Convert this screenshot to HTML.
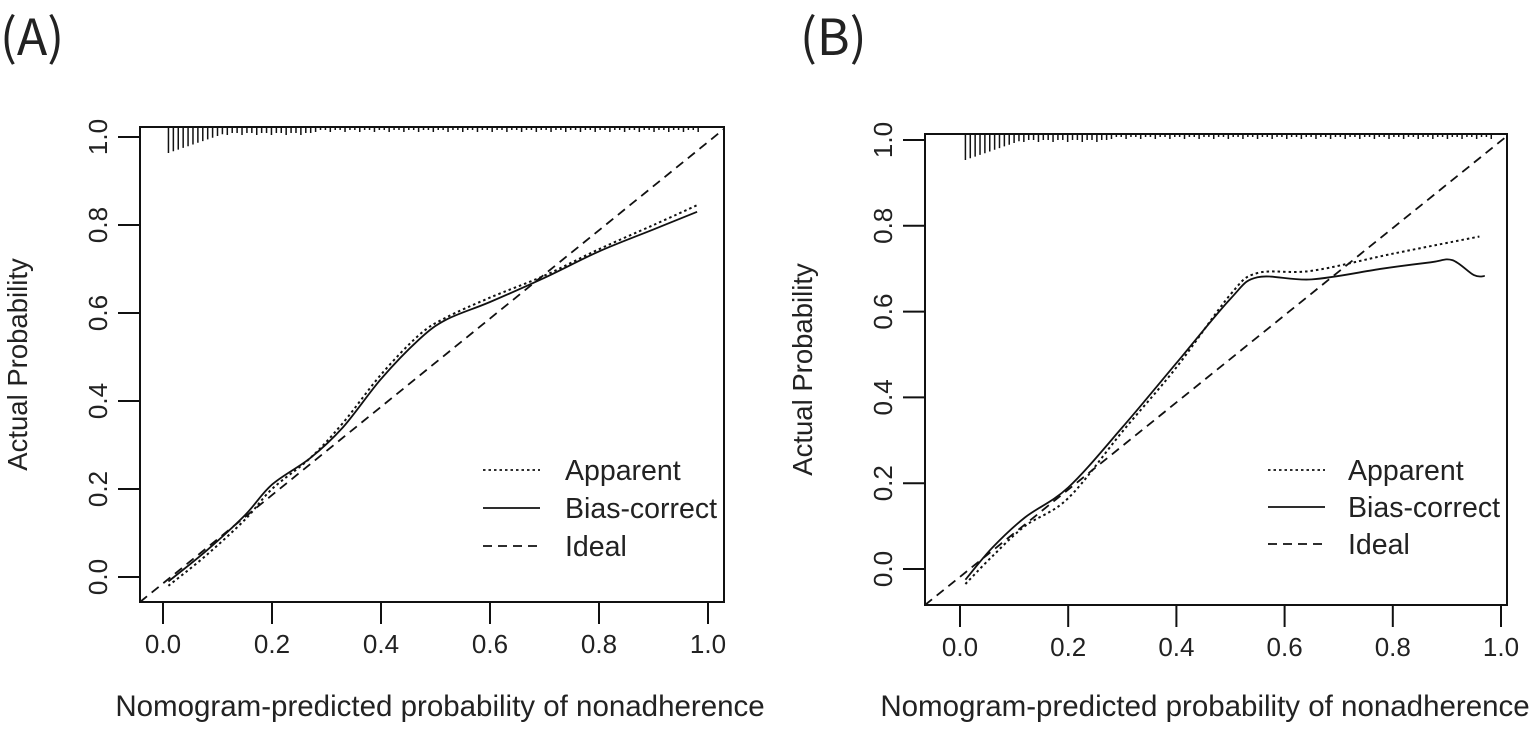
<!DOCTYPE html><html><head><meta charset="utf-8"><style>
body{margin:0;background:#fff;width:1535px;height:729px;overflow:hidden}
svg{display:block}
text{font-family:"Liberation Sans",Arial,sans-serif;fill:#222}
</style></head><body>
<svg id="s" width="1535" height="729" xmlns="http://www.w3.org/2000/svg">
<text x="0" y="55" style="font-family:'Noto Sans CJK SC','WenQuanYi Zen Hei',sans-serif;font-size:50px">(A)</text>
<text x="800" y="55" style="font-family:'Noto Sans CJK SC','WenQuanYi Zen Hei',sans-serif;font-size:50px">(B)</text>
</svg>
<script>
const S=document.getElementById('s'),NS='http://www.w3.org/2000/svg';
function el(t,a,txt){const e=document.createElementNS(NS,t);for(const k in a)e.setAttribute(k,a[k]);if(txt)e.textContent=txt;S.appendChild(e);return e;}
function smooth(p){let s='M'+p[0][0].toFixed(1)+','+p[0][1].toFixed(1);for(let i=0;i<p.length-1;i++){const a=p[i-1]||p[i],b=p[i],c=p[i+1],d=p[i+2]||c;
 s+=`C${(b[0]+(c[0]-a[0])/6).toFixed(1)},${(b[1]+(c[1]-a[1])/6).toFixed(1)} ${(c[0]-(d[0]-b[0])/6).toFixed(1)},${(c[1]-(d[1]-b[1])/6).toFixed(1)} ${c[0].toFixed(1)},${c[1].toFixed(1)}`;}return s;}
function panel(P){
 const X=v=>P.x0+v*(P.x1-P.x0),Y=v=>P.y0+v*(P.y1-P.y0);
 el('rect',{x:P.bl,y:P.bt,width:P.br-P.bl,height:P.bb-P.bt,fill:'none',stroke:'#111','stroke-width':2});
 for(let i=0;i<=5;i++){const v=i/5;
  el('line',{x1:X(v),x2:X(v),y1:P.bb,y2:P.bb+22,stroke:'#111','stroke-width':2});
  el('text',{x:X(v),y:P.bb+51,'text-anchor':'middle','font-size':26},v.toFixed(1));
  el('line',{y1:Y(v),y2:Y(v),x1:P.bl,x2:P.bl-22,stroke:'#111','stroke-width':2});
  el('text',{x:0,y:0,'text-anchor':'middle','font-size':26,transform:`translate(${P.bl-33},${Y(v)}) rotate(-90)`},v.toFixed(1));
 }
 el('text',{x:0,y:0,'text-anchor':'middle','font-size':27.5,transform:`translate(${P.bl-113},${(P.bt+P.bb)/2}) rotate(-90)`},'Actual Probability');
 el('text',{x:P.xt,y:716,'text-anchor':'middle','font-size':29.5},'Nomogram-predicted probability of nonadherence');
 let d='';for(let i=0;i<110;i++){const v=0.01+i*0.009;if(v>0.99)break;let h=i<12?(26-i*1.7):(i<30?6:3);if(i>=12&&i%3==0)h+=2;d+=`M${X(v)},${P.bt}v${Math.max(h,3)}`;}
 el('path',{d,stroke:'#111','stroke-width':1.5,fill:'none'});
 el('line',{x1:P.bl,y1:P.bb,x2:P.br,y2:P.bt+2,stroke:'#111','stroke-width':1.8,'stroke-dasharray':'9,6'});
 const path=(pts,da)=>{el('path',{d:smooth(pts.map(p=>[X(p[0]),Y(p[1])])),fill:'none',stroke:'#111','stroke-width':da?2:1.8,'stroke-dasharray':da||''});};
 path(P.app,'2.5,3');path(P.bias);
 const L=P.leg;[['Apparent','2.5,3',0],['Bias-correct','',1],['Ideal','9,6',2]].forEach(([t,da,i])=>{
  const y=L.y+i*L.dy;el('line',{x1:L.lx,x2:L.lx+57,y1:y,y2:y,stroke:'#111','stroke-width':1.8,'stroke-dasharray':da});
  el('text',{x:L.tx,y:y+10,'font-size':28.5},t);});
}
panel({x0:163,x1:708,y0:577,y1:137,bl:140,br:724,bt:127,bb:602,xt:440,
 app:[[0.01,-0.02],[0.08,0.05],[0.15,0.13],[0.2,0.2],[0.27,0.27],[0.33,0.35],[0.4,0.46],[0.47,0.55],[0.52,0.59],[0.6,0.635],[0.7,0.685],[0.8,0.745],[0.9,0.8],[0.98,0.845]],
 bias:[[0.01,-0.01],[0.08,0.06],[0.15,0.14],[0.2,0.21],[0.27,0.27],[0.33,0.34],[0.4,0.45],[0.47,0.54],[0.52,0.585],[0.6,0.625],[0.7,0.68],[0.8,0.74],[0.9,0.79],[0.98,0.83]],
 leg:{lx:483,tx:565,y:470,dy:38}});
panel({x0:960,x1:1501,y0:569,y1:140,bl:925,br:1507,bt:134,bb:605,xt:1205,
 app:[[0.01,-0.035],[0.06,0.03],[0.12,0.1],[0.2,0.165],[0.3,0.32],[0.4,0.47],[0.5,0.64],[0.55,0.69],[0.65,0.695],[0.8,0.735],[0.96,0.775]],
 bias:[[0.01,-0.025],[0.06,0.05],[0.12,0.12],[0.2,0.19],[0.3,0.33],[0.4,0.48],[0.5,0.63],[0.55,0.68],[0.65,0.675],[0.78,0.7],[0.87,0.715],[0.91,0.72],[0.95,0.685],[0.97,0.683]],
 leg:{lx:1268,tx:1348,y:470,dy:37}});
</script>
</body></html>
